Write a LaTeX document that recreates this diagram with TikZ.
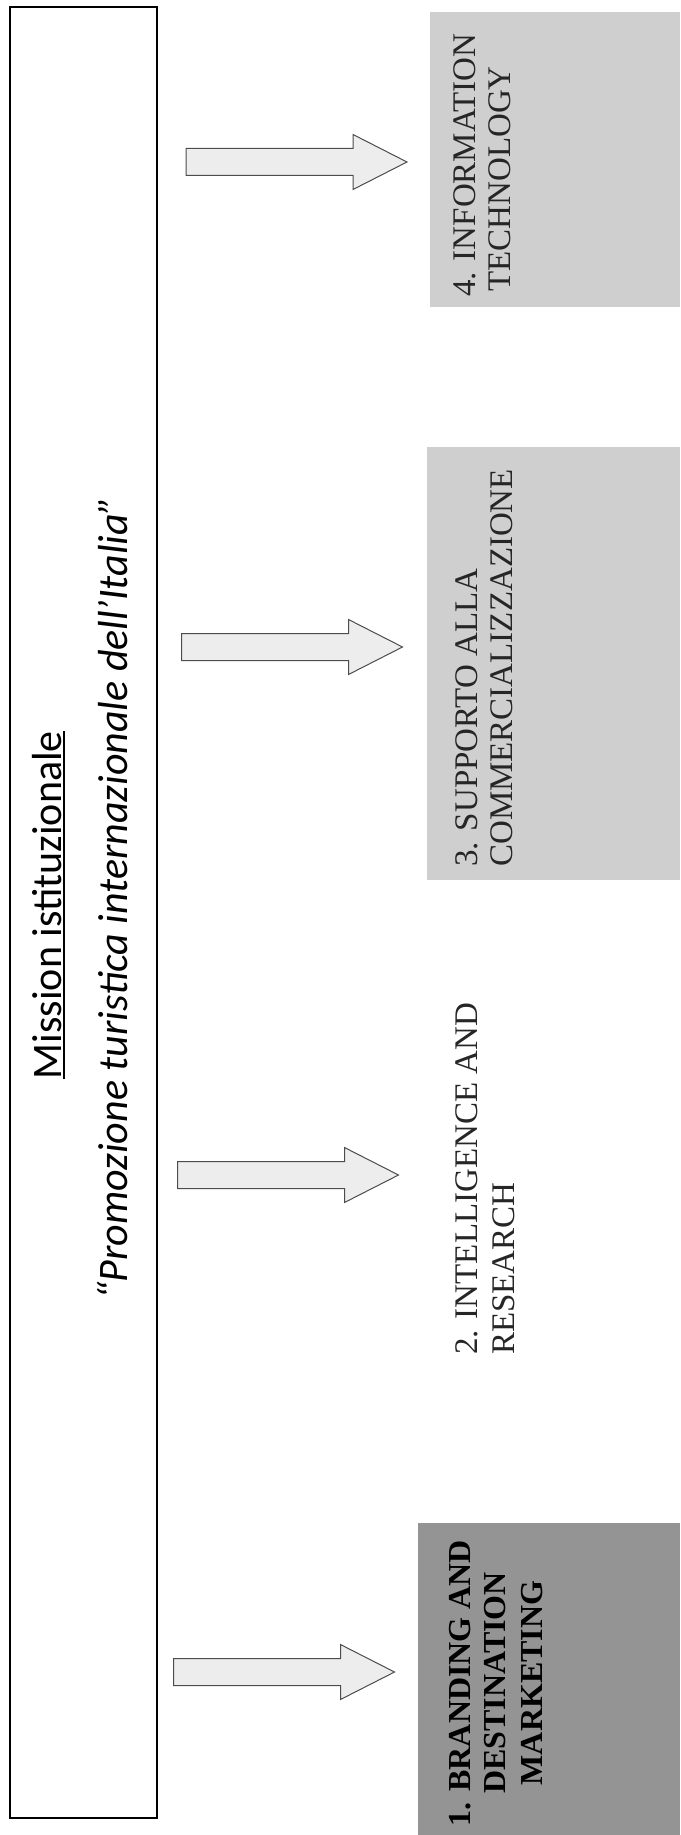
\documentclass[tikz,border=0pt]{standalone}
\usepackage{fontspec}
\setmainfont{Liberation Serif}
\newfontfamily\calib{Carlito}
\begin{document}
\begin{tikzpicture}[x=1pt,y=-1pt,
  mainframe/.style={draw=black, line width=1.3pt, inner sep=0pt},
  areabox/.style={inner sep=0pt, draw=none},
  darkarea/.style={areabox, fill=black!42},
  lightarea/.style={areabox, fill=black!19},
  areatext/.style={rotate=90, inner sep=0pt, text=black!85, font=\fontsize{33}{38}\selectfont},
  boldtext/.style={rotate=90, inner sep=0pt, anchor=base, font=\fontsize{32}{37}\selectfont\bfseries},
  missiontext/.style={rotate=90, inner sep=0pt, anchor=base, font=\calib\fontsize{42}{50}\selectfont},
  blockarrow/.style={draw=black!70, line width=1pt, fill=black!7}]
\useasboundingbox (0,0) rectangle (680,1835);

% main frame and its texts
\node[mainframe, minimum width=147pt, minimum height=1811pt] (main) at (83.5,912.5) {};
\node[missiontext] (mission) at (61,905) {Mission istituzionale};
\draw[line width=1.8pt] ([xshift=3pt]mission.base west) -- ([xshift=3pt]mission.base east);
\node[missiontext, font=\calib\itshape\fontsize{42}{50}\selectfont] (promo) at (127,898) {“Promozione turistica internazionale dell’Italia”};

% shaded areas
\node[lightarea, minimum width=250pt, minimum height=295pt] (b4) at (555,159.5) {};
\node[lightarea, minimum width=253pt, minimum height=433pt] (b3) at (553.5,663.5) {};
\node[darkarea, minimum width=262pt, minimum height=312pt] (b1) at (549,1679) {};

% block arrows
\foreach \cx/\cy in {296.5/162, 292/647, 288/1175, 284/1672}{
  \draw[blockarrow, shift={(\cx,\cy)}] (-110.5,-13.5) -- (56.5,-13.5) -- (56.5,-27.5) -- (110.5,0)
     -- (56.5,27.5) -- (56.5,13.5) -- (-110.5,13.5) -- cycle;
}

% area texts
\node[areatext, anchor=base west] (t4a) at (475,297) {4. INFORMATION};
\node[areatext, anchor=base west] (t4b) at (510,292) {TECHNOLOGY};
\node[areatext, anchor=base west] (t3a) at (477,867) {3. SUPPORTO ALLA};
\node[areatext, anchor=base west] (t3b) at (512,867) {COMMERCIALIZZAZIONE};
\node[areatext, anchor=base west] (t2a) at (477,1355) {2. INTELLIGENCE AND};
\node[areatext, anchor=base west] (t2b) at (514,1355) {RESEARCH};
\node[boldtext] (t1a) at (470,1683) {1. BRANDING AND};
\node[boldtext] (t1b) at (505,1683) {DESTINATION};
\node[boldtext] (t1c) at (542,1683) {MARKETING};
\end{tikzpicture}
\end{document}
